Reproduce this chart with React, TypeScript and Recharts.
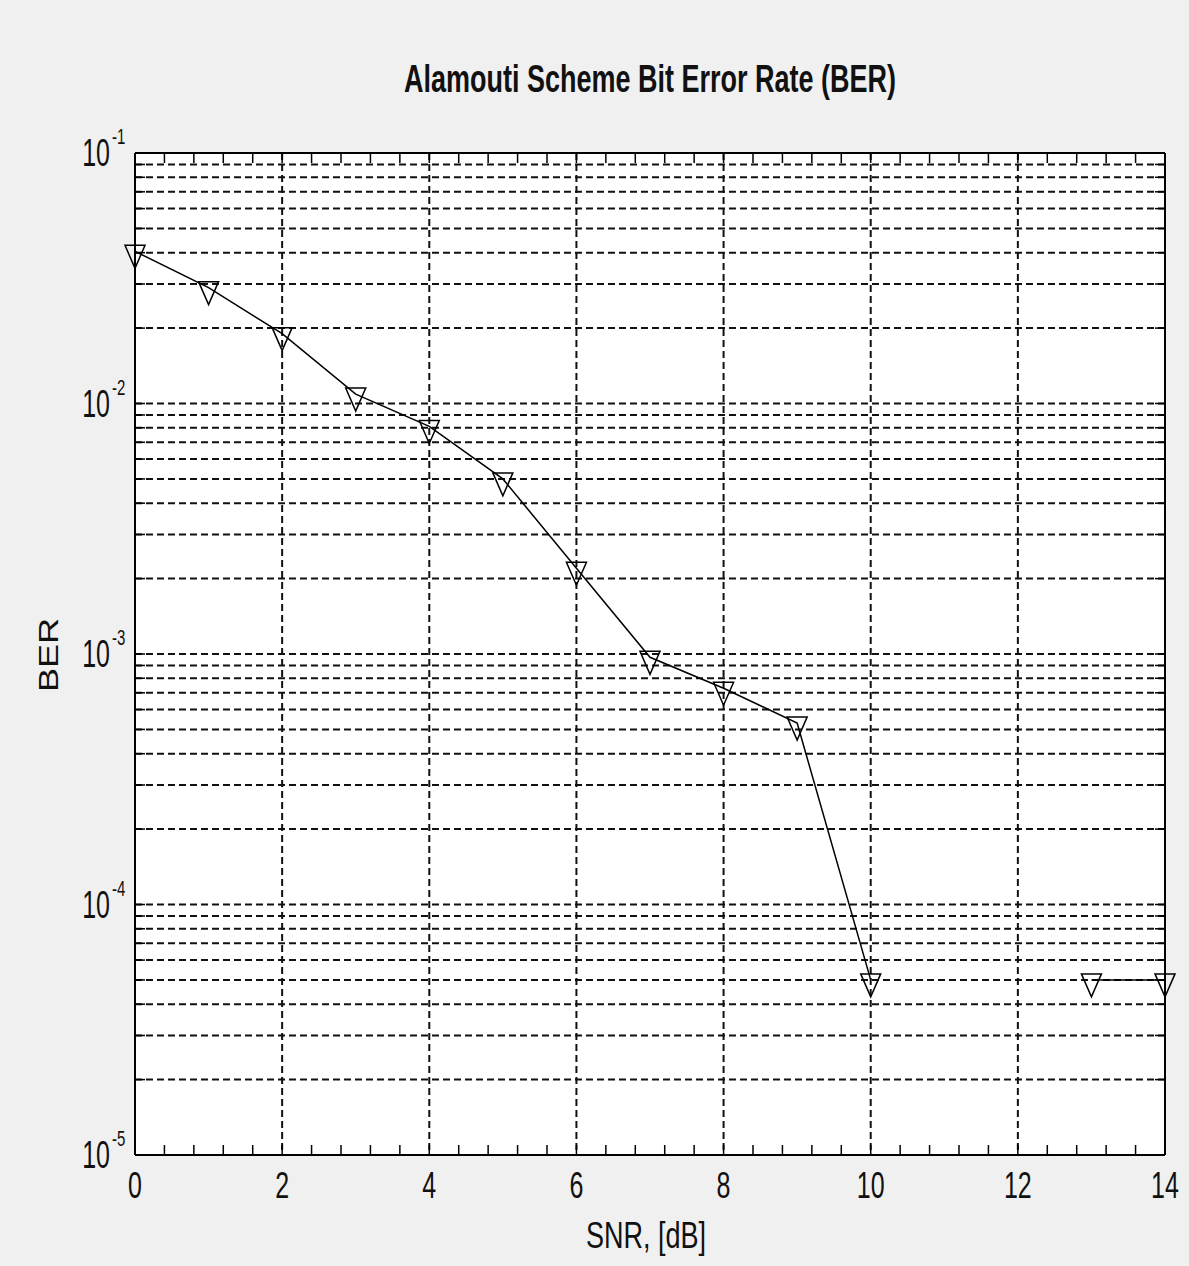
import { LineChart, Line, XAxis, YAxis, CartesianGrid } from "recharts";

// SNR in dB and the measured bit error rate (null = no errors counted)
const snr = [0, 1, 2, 3, 4, 5, 6, 7, 8, 9, 10, 11, 12, 13, 14];
const ber = [
  0.0405, 0.029, 0.019, 0.0109, 0.0081, 0.005, 0.0022, 0.00097, 0.00073,
  0.00053, 0.00005, null, null, 0.00005, 0.00005,
];

const xLabels = [0, 2, 4, 6, 8, 10, 12, 14];
const xGrid = [2, 4, 6, 8, 10, 12];
const xTicks = [
  0, 0.4, 0.8, 1.2, 1.6, 2, 2.4, 2.8, 3.2, 3.6, 4, 4.4, 4.8, 5.2, 5.6, 6, 6.4,
  6.8, 7.2, 7.6, 8, 8.4, 8.8, 9.2, 9.6, 10, 10.4, 10.8, 11.2, 11.6, 12, 12.4,
  12.8, 13.2, 13.6, 14,
];
const decades = [1e-5, 1e-4, 1e-3, 1e-2, 1e-1];
const mantissas = [1, 2, 3, 4, 5, 6, 7, 8, 9];
const yTicks = [
  ...decades.slice(0, 4).flatMap((d) => mantissas.map((m) => m * d)),
  1e-1,
];

const rows = snr.map((s, i) => ({ snr: s, ber: ber[i] }));

const FONT = "'Liberation Sans', Arial, sans-serif";

const Empty = () => <g />;

const XTick = ({ x, y, payload }: any) => {
  if (!xLabels.includes(payload.value)) return <g />;
  return (
    <text
      transform={`translate(${x},${y}) scale(1,1.45)`}
      textAnchor="middle"
      fontSize={25}
      fontFamily={FONT}
      fill="#111"
    >
      {payload.value}
    </text>
  );
};

const YTick = ({ x, y, payload }: any) => {
  const v = payload.value;
  const exp = Math.round(Math.log10(v));
  if (Math.abs(v - Math.pow(10, exp)) > v * 1e-6) return <g />;
  return (
    <g fontFamily={FONT} fill="#111">
      <text
        transform={`translate(${x},${y + 13}) scale(1,1.56)`}
        textAnchor="end"
        fontSize={25}
      >
        10
      </text>
      <text
        transform={`translate(${x + 2},${y - 9}) scale(1,1.5)`}
        textAnchor="start"
        fontSize={15}
      >
        {exp}
      </text>
    </g>
  );
};

const TriangleDot = (props: any) => {
  const { cx, cy, index, value } = props;
  if (value == null || cx == null || cy == null) return <g key={`t${index}`} />;
  return (
    <path
      key={`t${index}`}
      d={`M${cx - 10},${cy - 6} L${cx + 10},${cy - 6} L${cx},${cy + 17} Z`}
      fill="none"
      stroke="#000"
      strokeWidth={1.5}
    />
  );
};

export default function App() {
  const axisLine = { stroke: "#000", strokeWidth: 2 };
  const tickLine = { stroke: "#000", strokeWidth: 1.5 };
  return (
    <div
      style={{
        position: "absolute",
        left: 0,
        top: 0,
        width: 1189,
        height: 1266,
        background: "#f0f0f0",
      }}
    >
      <LineChart
        width={1189}
        height={1266}
        data={rows}
        margin={{ top: 152, right: 23, bottom: 31, left: 35 }}
      >
        <CartesianGrid
          fill="#fff"
          stroke="#111"
          strokeWidth={2}
          strokeDasharray="7 4"
          verticalValues={xGrid}
          horizontalValues={yTicks}
        />
        <XAxis
          dataKey="snr"
          type="number"
          domain={[0, 14]}
          ticks={xTicks}
          interval={0}
          tick={XTick}
          tickSize={-10}
          tickMargin={53}
          height={80}
          axisLine={axisLine}
          tickLine={tickLine}
        />
        <XAxis
          xAxisId="top"
          orientation="top"
          dataKey="snr"
          type="number"
          domain={[0, 14]}
          ticks={xTicks}
          interval={0}
          tick={Empty}
          tickSize={-10}
          height={1}
          axisLine={axisLine}
          tickLine={tickLine}
        />
        <YAxis
          type="number"
          scale="log"
          domain={[1e-5, 1e-1]}
          ticks={yTicks}
          interval={0}
          tick={YTick}
          tickSize={-10}
          tickMargin={35}
          width={100}
          axisLine={axisLine}
          tickLine={tickLine}
        />
        <YAxis
          yAxisId="right"
          orientation="right"
          type="number"
          scale="log"
          domain={[1e-5, 1e-1]}
          allowDataOverflow
          ticks={yTicks}
          interval={0}
          tick={Empty}
          tickSize={-10}
          width={1}
          axisLine={axisLine}
          tickLine={tickLine}
        />
        <Line
          dataKey="ber"
          stroke="#000"
          strokeWidth={1.5}
          connectNulls={false}
          dot={TriangleDot}
          activeDot={false}
          isAnimationActive={false}
        />
      </LineChart>
      <svg
        width={1189}
        height={1266}
        style={{ position: "absolute", left: 0, top: 0, pointerEvents: "none" }}
        fontFamily={FONT}
      >
        <text
          transform="translate(650,92) scale(1,1.45)"
          textAnchor="middle"
          fontSize={27}
          fontWeight="bold"
          fill="#111"
        >
          Alamouti Scheme Bit Error Rate (BER)
        </text>
        <text
          transform="translate(646,1248) scale(1,1.34)"
          textAnchor="middle"
          fontSize={27}
          fill="#111"
        >
          SNR, [dB]
        </text>
        <text
          transform="translate(58,655) rotate(-90) scale(1.29,1)"
          textAnchor="middle"
          fontSize={28}
          fill="#111"
        >
          BER
        </text>
      </svg>
    </div>
  );
}
